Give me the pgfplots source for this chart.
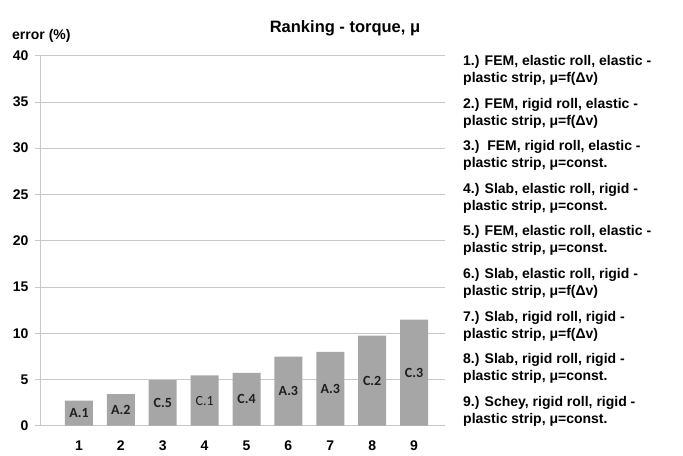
\documentclass[border=0pt]{standalone}
\usepackage{pgfplots}
\pgfplotsset{compat=1.18}
\usepackage{fontspec}
\setmainfont{Liberation Sans}
\newfontfamily\calibri{Carlito}
\definecolor{barc}{RGB}{166,166,166}
\definecolor{gridc}{RGB}{200,200,200}
\definecolor{labc}{RGB}{30,30,30}
\begin{document}
\begin{tikzpicture}[x=1bp,y=1bp]
\useasboundingbox (0,0) rectangle (683,456);
\begin{axis}[
  at={(40bp,30.3bp)}, anchor=south west,
  scale only axis, width=405bp, height=370bp,
  xmin=0.069, xmax=9.74, ymin=0, ymax=40,
  axis y line*=left, axis x line*=bottom,
  axis line style={draw=gridc, line width=0.8bp},
  ytick={0,5,...,40}, xtick={1,...,9},
  ymajorgrids, grid style={draw=gridc, line width=0.8bp},
  tick align=outside,
  ytick style={draw=gridc, line width=0.8bp},
  major tick length=5bp,
  xtick style={draw=none},
  /pgf/number format/assume math mode=true,
  tick label style={font=\bfseries\fontsize{14bp}{16bp}\selectfont},
  yticklabel style={xshift=-3bp},
  xticklabel style={yshift=-7bp},
]
\addplot[ybar, bar width=28bp, fill=barc, draw=none] coordinates {
  (1,2.70) (2,3.40) (3,4.94) (4,5.45) (5,5.70) (6,7.46) (7,7.97) (8,9.73) (9,11.46)};
\addplot[draw=none, mark=none, nodes near coords, point meta=explicit symbolic,
  every node near coord/.append style={anchor=center, font=\calibri\bfseries\fontsize{14bp}{16bp}\selectfont, text=labc}]
  coordinates {(1,1.35)[A.1] (2,1.70)[A.2] (3,2.47)[C.5] (5,2.85)[C.4] (6,3.73)[A.3] (7,3.98)[A.3] (8,4.87)[C.2] (9,5.73)[C.3]};
\addplot[draw=none, mark=none, nodes near coords, point meta=explicit symbolic,
  every node near coord/.append style={anchor=center, font=\calibri\fontsize{14bp}{16bp}\selectfont, text=labc}]
  coordinates {(4,2.72)[C.1]};
\end{axis}
\node[anchor=base, font=\bfseries\fontsize{16.5bp}{19bp}\selectfont] at (345,423) {Ranking - torque, μ};
\node[anchor=base west, inner sep=0pt, font=\bfseries\fontsize{14bp}{16bp}\selectfont] at (12,416) {error (\%)};
\begin{scope}[every node/.style={anchor=base west, inner sep=0pt, font=\bfseries\fontsize{14bp}{16bp}\selectfont}]
\node at (463,390.5) {1.) FEM, elastic roll, elastic -};
\node at (463,373.5) {plastic strip, μ=f(Δv)};
\node at (463,347.9) {2.) FEM, rigid roll, elastic -};
\node at (463,330.9) {plastic strip, μ=f(Δv)};
\node at (463,305.3) {3.)\ \ FEM, rigid roll, elastic -};
\node at (463,288.3) {plastic strip, μ=const.};
\node at (463,262.7) {4.) Slab, elastic roll, rigid -};
\node at (463,245.7) {plastic strip, μ=const.};
\node at (463,220.1) {5.) FEM, elastic roll, elastic -};
\node at (463,203.1) {plastic strip, μ=const.};
\node at (463,177.5) {6.) Slab, elastic roll, rigid -};
\node at (463,160.5) {plastic strip, μ=f(Δv)};
\node at (463,134.9) {7.) Slab, rigid roll, rigid -};
\node at (463,117.9) {plastic strip, μ=f(Δv)};
\node at (463,92.3) {8.) Slab, rigid roll, rigid -};
\node at (463,75.3) {plastic strip, μ=const.};
\node at (463,49.7) {9.) Schey, rigid roll, rigid -};
\node at (463,32.7) {plastic strip, μ=const.};
\end{scope}
\end{tikzpicture}
\end{document}
